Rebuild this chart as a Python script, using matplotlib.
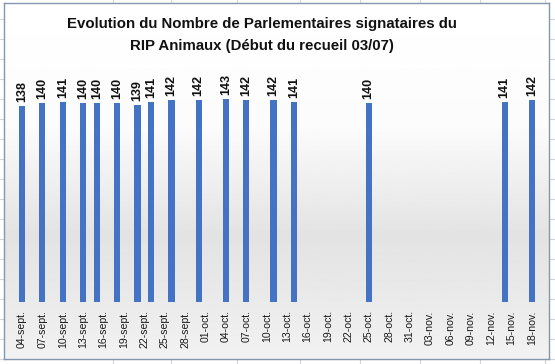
import datetime as dt
import numpy as np
import matplotlib
matplotlib.use("Agg")
import matplotlib.pyplot as plt
import matplotlib.dates as mdates

# Data (year assumed 2020)
dates = ["2020-09-04", "2020-09-07", "2020-09-10", "2020-09-13", "2020-09-15",
         "2020-09-18", "2020-09-21", "2020-09-23", "2020-09-26", "2020-09-30",
         "2020-10-04", "2020-10-07", "2020-10-11", "2020-10-14", "2020-10-25",
         "2020-11-14", "2020-11-18"]
signataires = [138, 140, 141, 140, 140, 140, 139, 141, 142, 142,
               143, 142, 142, 141, 140, 141, 142]
mois_fr = {9: "sept.", 10: "oct.", 11: "nov."}

title = "Evolution du Nombre de Parlementaires signataires du\nRIP Animaux (Début du recueil 03/07)"

W, H = 555, 364
fig = plt.figure(figsize=(W / 100, H / 100), dpi=100)
fig.patch.set_facecolor("white")

# spreadsheet cell grid behind the chart
grid = fig.add_axes([0, 0, 1, 1])
grid.set_xlim(0, W)
grid.set_ylim(H, 0)
grid.axis("off")
for y in range(19, H, 20):
    grid.axhline(y, color="#d4d4d4", lw=0.8)
for x in [113, 171, 237, 300, 360, 420, 480, 545]:
    grid.axvline(x, color="#d4d4d4", lw=0.8)

# chart area with gradient
cx0, cy0, cx1, cy1 = 4, 3, 549, 359
bg = fig.add_axes([cx0 / W, 1 - cy1 / H, (cx1 - cx0) / W, (cy1 - cy0) / H])
stops_y = [0.0, 0.35, 0.65, 0.85, 1.0]
stops_v = [1.0, 0.985, 0.89, 0.92, 0.95]
yy = np.linspace(0, 1, 300)
grad = np.interp(yy, stops_y, stops_v)
bg.imshow(np.tile(grad[:, None], (1, 2)), aspect="auto", cmap="gray",
          vmin=0, vmax=1, extent=[0, 1, 1, 0])
bg.set_xticks([])
bg.set_yticks([])
for s in bg.spines.values():
    s.set_color("#8497b0")
    s.set_linewidth(1.0)

# plot area
x = [mdates.date2num(dt.datetime.strptime(d, "%Y-%m-%d")) for d in dates]
px_left, px_right = 11.8, 542
y_bottom, y_top_px = 302, 82
ax = fig.add_axes([px_left / W, 1 - y_bottom / H, (px_right - px_left) / W,
                   (y_bottom - y_top_px) / H])
ax.patch.set_alpha(0)
ax.bar(x, signataires, width=0.9, color="#4472c4", zorder=3)
ax.set_xlim(x[0] - 1.5, x[-1] + 1.5)
ax.set_ylim(0, 155)

ticks = np.arange(x[0], x[-1] + 0.5, 3)
labels = []
for t in ticks:
    d = mdates.num2date(t)
    labels.append(f"{d.day:02d}-{mois_fr[d.month]}")
ax.set_xticks(ticks)
ax.set_xticklabels(labels, rotation=90, fontsize=7.6, family="Liberation Sans",
                   color="#1a1a1a")
ax.tick_params(axis="x", length=0, pad=6)
ax.set_yticks([])
for s in ax.spines.values():
    s.set_visible(False)

for xi, v in zip(x, signataires):
    ax.annotate(str(v), (xi, v), xytext=(0, 3), textcoords="offset points",
                rotation=90, ha="center", va="bottom", fontsize=9,
                fontweight="bold", family="Liberation Sans", color="#111111")

fig.text(262 / W, 1 - 35 / H, title, ha="center", va="center", fontsize=10.8,
         fontweight="bold", family="Liberation Sans", color="#111111",
         linespacing=1.75)

fig.savefig("out.png", dpi=100)
